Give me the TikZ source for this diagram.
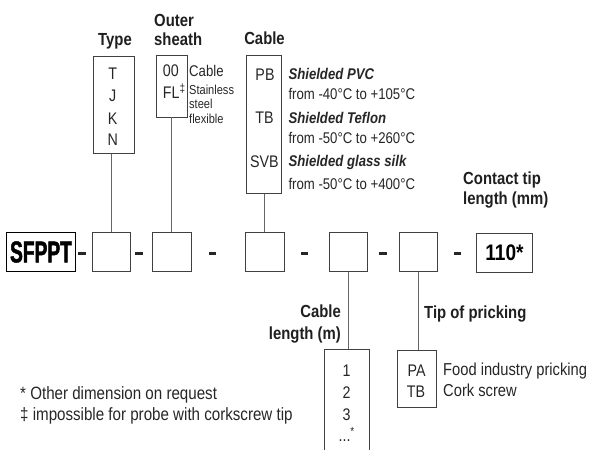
\documentclass[tikz,border=0pt]{standalone}
\usepackage{fontspec}
\setmainfont{Liberation Sans}[FakeStretch=0.85]
\newfontfamily\logofont{Liberation Sans}[FakeStretch=0.64,BoldFeatures={FakeBold=1.5}]

\begin{document}
\begin{tikzpicture}[x=1bp,y=-1bp,
  slot/.style={draw=black!75,line width=0.8pt,minimum width=38.5bp,minimum height=39bp,inner sep=0pt},
  codebox/.style={draw=black!75,line width=0.8pt,inner sep=0pt},
  bar/.style={fill=black!85,minimum width=7.7bp,minimum height=3bp,inner sep=0pt},
  link/.style={black!60,line width=0.7pt},
  head/.style={font=\fontsize{17.5bp}{20bp}\selectfont\bfseries,text=black!88,
               inner sep=0pt,text height=12.5bp,text depth=0pt},
  code/.style={font=\fontsize{16.8bp}{19bp}\selectfont,text=black!85,
               inner sep=0pt,text height=12bp,text depth=0pt},
  desc/.style={font=\fontsize{15.5bp}{18bp}\selectfont,text=black!85,
               inner sep=0pt,text height=11.1bp,text depth=0pt,anchor=west},
  descb/.style={desc,font=\fontsize{15.5bp}{18bp}\selectfont\bfseries\itshape},
  fine/.style={font=\fontsize{13bp}{15bp}\selectfont,text=black!85,
               inner sep=0pt,text height=9.3bp,text depth=0pt,anchor=west},
  note/.style={font=\fontsize{17.3bp}{20bp}\selectfont,text=black!85,
               inner sep=0pt,text height=12.4bp,text depth=0pt,anchor=west},
]
\useasboundingbox (0,0) rectangle (591,450);

% Code row
\node[slot,draw=black,minimum width=68.7bp] (logo) at (41,252)
  {\logofont\fontsize{30bp}{30bp}\selectfont\bfseries SFPPT};
\node[slot] (type) at (111.2,252.2) {};
\node[slot] (sheath) at (171.8,252.2) {};
\node[slot] (cable) at (264.8,252.2) {};
\node[slot] (length) at (348.5,252.2) {};
\node[slot] (tip) at (418.3,252.2) {};
\node[slot,minimum width=55.7bp] (contact) at (504.5,252.5)
  {\fontsize{22.5bp}{24bp}\selectfont\bfseries 110*};

% Dashes between fields
\foreach \x [count=\i] in {82.2,139.2,212.5,304.5,382.8,457.5}
  \node[bar] (bar\i) at (\x,253.5) {};

% Option boxes
\node[codebox,minimum width=40.7bp,minimum height=97.3bp] (tbox) at (113.7,104.7) {};
\node[codebox,minimum width=31bp,minimum height=62bp] (sbox) at (171.5,86) {};
\node[codebox,minimum width=35.7bp,minimum height=138.3bp] (cbox) at (264,124.2) {};
\node[codebox,minimum width=45bp,minimum height=106bp] (lbox) at (346.5,402.3) {};
\node[codebox,minimum width=39bp,minimum height=57bp] (pbox) at (417.2,379.2) {};

% Links from fields to option boxes
\draw[link] (type.north) -- (type.north |- tbox.south);
\draw[link] (sheath.north) -- (sheath.north |- sbox.south);
\draw[link] (cable.north) -- (cable.north |- cbox.south);
\draw[link] (length.south) -- (length.south |- lbox.north);
\draw[link] (tip.south) -- (tip.south |- pbox.north);

% Headings
\node[head] (typehead) at (115,39.5) {Type};
\node[head,anchor=west] (sheathhead) at (154,20) {Outer};
\node[head,anchor=west] (sheathhead2) at (154,39.5) {sheath};
\node[head] (cablehead) at (264.5,38) {Cable};
\node[head,anchor=west] (contacthead) at (463,178.3) {Contact tip};
\node[head,anchor=west] (contacthead2) at (463,198.3) {length (mm)};
\node[head,anchor=east] (lengthhead) at (341,311) {Cable};
\node[head,anchor=east] (lengthhead2) at (341,333) {length (m)};
\node[head,anchor=west] (tiphead) at (424,312.5) {Tip of pricking};

% Type
\foreach \c/\y [count=\i] in {T/73.7,J/96,K/118.3,N/140}
  \node[code] (t\i) at (112.7,\y) {\c};

% Outer sheath
\node[code,anchor=west] (s1) at (162.7,70.8) {00};
\node[code,anchor=west] (s2) at (162.7,93) {FL\textsuperscript{‡}};
\node[desc] (s1txt) at (189,71) {Cable};
\node[fine] (s2txt) at (189,89.7) {Stainless};
\node[fine] (s2txt2) at (189,104) {steel};
\node[fine] (s2txt3) at (189,119) {flexible};

% Cable
\node[code] (c1) at (265,74.2) {PB};
\node[code] (c2) at (264.5,117.8) {TB};
\node[code] (c3) at (264.3,161.2) {SVB};
\node[descb] (c1txt) at (288.3,74.2) {Shielded PVC};
\node[desc] (c1tmp) at (288.3,94.2) {from -40°C to +105°C};
\node[descb] (c2txt) at (288.3,117.8) {Shielded Teflon};
\node[desc] (c2tmp) at (288.3,138.3) {from -50°C to +260°C};
\node[descb] (c3txt) at (288.3,161.2) {Shielded glass silk};
\node[desc] (c3tmp) at (288.3,183.5) {from -50°C to +400°C};

% Cable length
\foreach \c/\y [count=\i] in {1/370.8,2/392.5,3/414,{...\textsuperscript{*}}/435.5}
  \node[code] (l\i) at (346.7,\y) {\c};

% Tip of pricking
\node[code] (p1) at (416.7,370) {PA};
\node[code] (p2) at (416,391) {TB};
\node[note] (p1txt) at (443,369.5) {Food industry pricking};
\node[note] (p2txt) at (443,390.5) {Cork screw};

% Footnotes
\node[note,font=\fontsize{17.8bp}{20bp}\selectfont] (foot1) at (20,393.3) {* Other dimension on request};
\node[note,font=\fontsize{17.8bp}{20bp}\selectfont] (foot2) at (20,414.2) {‡ impossible for probe with corkscrew tip};

\end{tikzpicture}
\end{document}
